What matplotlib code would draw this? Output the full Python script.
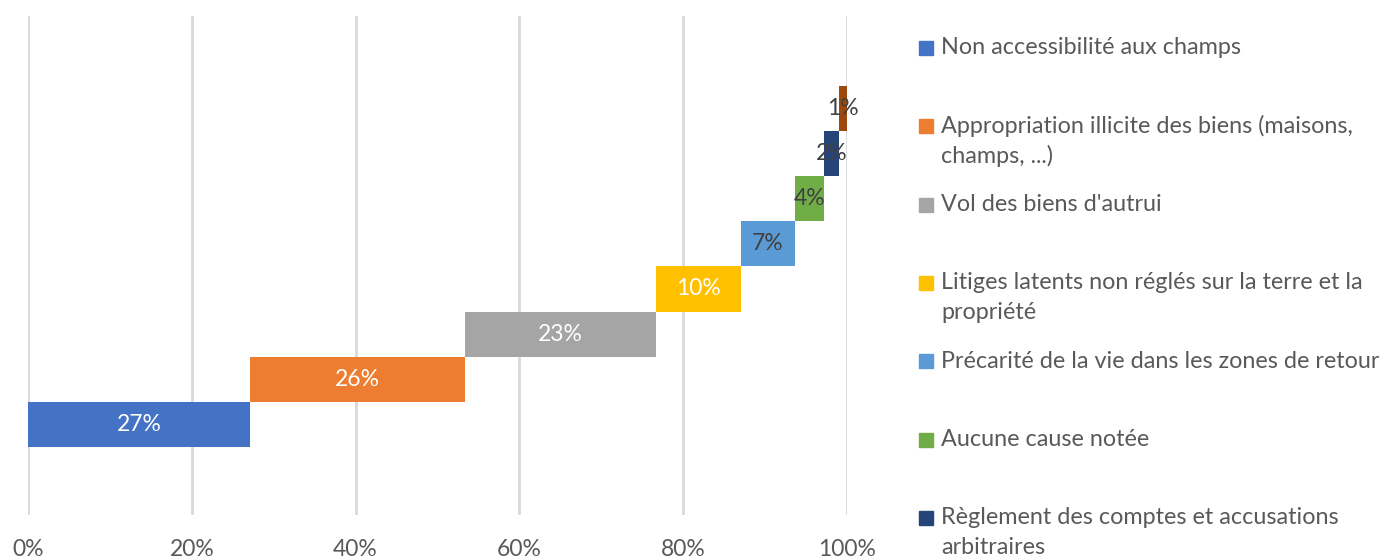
import matplotlib.pyplot as plt
from matplotlib.patches import Rectangle
from matplotlib.ticker import FuncFormatter

causes = ['Non accessibilité aux champs',
          'Appropriation illicite des biens (maisons,\nchamps, ...)',
          "Vol des biens d'autrui",
          'Litiges latents non réglés sur la terre et la\npropriété',
          'Précarité de la vie dans les zones de retour',
          'Aucune cause notée',
          'Règlement des comptes et accusations\narbitraires',
          'Autres']
values = [27.1, 26.2, 23.4, 10.3, 6.6, 3.6, 1.8, 1.0]
colors = ['#4472C4', '#ED7D31', '#A5A5A5', '#FFC000',
          '#5B9BD5', '#70AD47', '#264478', '#9E480E']
label_colors = ['white', 'white', 'white', 'white',
                '#404040', '#404040', '#404040', '#404040']

plt.rcParams['font.family'] = ['Lato', 'DejaVu Sans']
W, H = 1384, 558
fig = plt.figure(figsize=(W / 100, H / 100), dpi=100)
ax = fig.add_axes([28 / W, 1 - 515 / H, (847 - 28) / W, (515 - 16) / H])

left = 0
for i, v in enumerate(values):
    ax.barh(i, v, left=left, height=1.0, color=colors[i], zorder=2)
    ax.text(left + v / 2, i, '%d%%' % round(v), ha='center', va='center',
            color=label_colors[i], fontsize=16.5, zorder=3)
    left += v

ax.set_xlim(0, 100)
ax.set_ylim(-2.01, 9.05)
ax.set_xticks(range(0, 101, 20))
ax.xaxis.set_major_formatter(FuncFormatter(lambda x, p: '%d%%' % x))
ax.set_yticks([])
ax.grid(axis='x', color='#D9D9D9', lw=2, zorder=0)
ax.tick_params(axis='x', length=0, pad=17, labelsize=16.5, labelcolor='#595959')
for s in ax.spines.values():
    s.set_visible(False)

# legend drawn by hand, last entry falls off the figure like the original
for i, name in enumerate(causes):
    yc = 48 + 78.3 * i
    fig.add_artist(Rectangle((919 / W, 1 - (yc + 7) / H), 14 / W, 14 / H,
                             color=colors[i], transform=fig.transFigure))
    for k, line in enumerate(name.split('\n')):
        fig.text(941 / W, 1 - (yc + 30 * k) / H, line, va='center', ha='left',
                 fontsize=16.8, color='#595959')

fig.savefig('out.png', dpi=100)
